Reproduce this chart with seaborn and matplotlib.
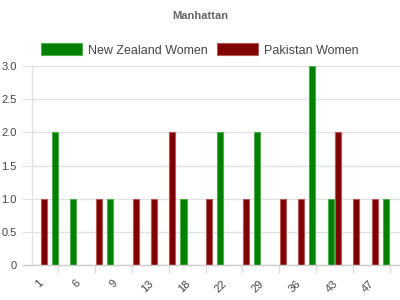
import numpy as np
import pandas as pd
import matplotlib
matplotlib.use("Agg")
import matplotlib.pyplot as plt
import matplotlib.transforms as mtransforms
from matplotlib.patches import Patch
import seaborn as sns

# ---- data ----
overs = ["1", "3", "6", "8", "9", "11", "13", "16", "18", "20",
         "22", "26", "29", "33", "36", "40", "43", "45", "47"]
nz_women = [2, 1, 0, 1, 0, 0, 0, 1, 0, 2, 0, 2, 0, 0, 3, 1, 0, 0, 1]
pk_women = [1, 0, 0, 1, 0, 1, 1, 2, 0, 1, 0, 1, 0, 1, 1, 0, 2, 1, 1]
series_names = ["New Zealand Women", "Pakistan Women"]
colors = {"New Zealand Women": "#008000", "Pakistan Women": "#800000"}
edges = {"New Zealand Women": "#4cae4c", "Pakistan Women": "#b05a5a"}
yticks = [0, 0.5, 1.0, 1.5, 2.0, 2.5, 3.0]
ytick_labels = ["0", "0.5", "1.0", "1.5", "2.0", "2.5", "3.0"]

rows = []
for o, v in zip(overs, nz_women):
    if v:
        rows.append({"over": o, "team": series_names[0], "value": v})
for o, v in zip(overs, pk_women):
    if v:
        rows.append({"over": o, "team": series_names[1], "value": v})
df = pd.DataFrame(rows)

sns.set_style("white")
plt.rcParams["font.family"] = ["Liberation Sans", "DejaVu Sans"]

fig = plt.figure(figsize=(4, 3), dpi=100)
W, H = 400, 300
ax = fig.add_axes([31.7 / W, 1 - 265 / H, (400 - 31.7) / W, (265 - 66) / H])

hue_order = ["Pakistan Women", "New Zealand Women"]
sns.barplot(data=df, x="over", y="value", hue="team", order=overs,
            hue_order=hue_order, palette=colors, width=1.2, gap=0.45,
            ax=ax, legend=False, saturation=1)
for cont, name in zip(ax.containers, hue_order):
    for bar in cont:
        bar.set_edgecolor(edges[name])
        bar.set_linewidth(0.8)

ax.set_xlim(-0.95, 19.07)
ax.set_ylim(0, 3.0)
ax.set_xlabel("")
ax.set_ylabel("")

# y axis
ax.set_yticks(yticks)
ax.set_yticklabels(ytick_labels)
ax.yaxis.grid(True, color="#e2e2e2", linewidth=1)
ax.set_axisbelow(True)
ax.tick_params(axis="y", length=7.2, width=0.8, color="#e2e2e2", pad=3.6,
               labelsize=8, labelcolor="#444444", left=True)

# x axis: labels every other category, ticks at boundaries
idx = list(range(0, len(overs), 2))
ax.set_xticks(idx)
ax.set_xticklabels([overs[i] for i in idx], rotation=45, ha="right", va="top")
ax.set_xticks([i + 0.5 for i in idx], minor=True)
ax.tick_params(axis="x", which="major", length=0, pad=9.5, labelsize=8,
               labelcolor="#444444")
ax.tick_params(axis="x", which="minor", length=5.8, width=0.8,
               color="#d8d8d8", bottom=True)
offset = mtransforms.ScaledTranslation(-4 / 100, 0, fig.dpi_scale_trans)
for lab in ax.get_xticklabels():
    lab.set_transform(lab.get_transform() + offset)

for s in ["top", "right"]:
    ax.spines[s].set_visible(False)
ax.spines["left"].set_color("#e2e2e2")
ax.spines["left"].set_linewidth(1)
ax.spines["bottom"].set_visible(False)
ax.axhline(0, xmin=-(31.7 - 23) / (400 - 31.7), xmax=1, color="#cccccc",
           linewidth=1, clip_on=False, zorder=3)

# title
fig.text(0.5, 1 - 16 / H, "Manhattan", ha="center", va="center",
         fontsize=8, fontweight="bold", color="#666666")

# legend
handles = [Patch(facecolor=colors[n], edgecolor=edges[n], linewidth=0.8, label=n)
           for n in series_names]
leg = fig.legend(handles=handles, loc="center", bbox_to_anchor=(0.5, 1 - 50 / H),
                 ncol=2, frameon=False, fontsize=9, handlelength=3.3,
                 handleheight=1.05, handletextpad=0.5, columnspacing=0.7,
                 labelcolor="#444444", borderpad=0)

fig.savefig("out.png", dpi=100)
